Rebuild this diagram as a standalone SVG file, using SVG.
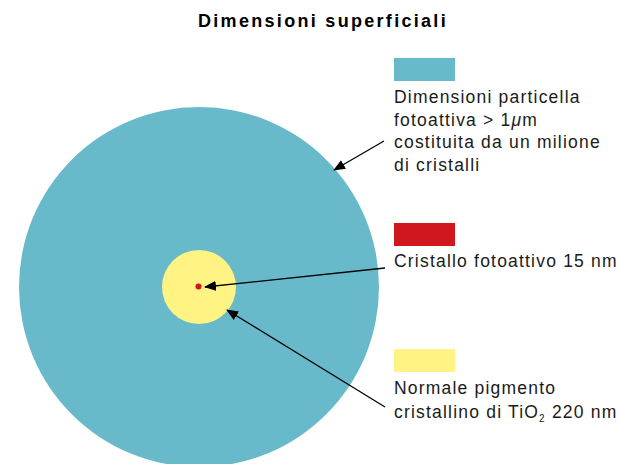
<svg xmlns="http://www.w3.org/2000/svg" width="620" height="464" viewBox="0 0 620 464">
<style>
text{font-family:"Liberation Sans",Arial,sans-serif;font-size:17.5px;letter-spacing:1.2px;fill:#1a1a1a}
.title{font-weight:bold;font-size:18px;letter-spacing:2.3px;fill:#000}
.conn{stroke:#000;stroke-width:1.3;fill:none}
</style>
<defs>
<marker id="ah" viewBox="0 0 12 10" refX="11" refY="5" markerWidth="12" markerHeight="10" markerUnits="userSpaceOnUse" orient="auto">
<path d="M0,0 L12,5 L0,10 Z" fill="#000"/>
</marker>
</defs>
<rect width="620" height="464" fill="#fff"/>
<text class="title" x="323" y="27" text-anchor="middle">Dimensioni superficiali</text>
<g id="particle"><circle cx="199" cy="287" r="180" fill="#68BACB"/></g>
<g id="pigment"><circle cx="199" cy="287" r="37" fill="#FFF383"/></g>
<g id="crystal"><circle cx="198.5" cy="286.5" r="3" fill="#D0171D"/></g>
<g id="legend-particle">
<rect x="394" y="58" width="61" height="23" fill="#68BACB"/>
<text x="394" y="103">Dimensioni particella</text>
<text x="394" y="126">fotoattiva &gt; 1<tspan font-style="italic">μ</tspan>m</text>
<text x="394" y="148">costituita da un milione</text>
<text x="394" y="171">di cristalli</text>
</g>
<g id="legend-crystal">
<rect x="394" y="223" width="61" height="23" fill="#D0171D"/>
<text x="394" y="267">Cristallo fotoattivo 15 nm</text>
</g>
<g id="legend-pigment">
<rect x="394" y="349" width="61" height="23" fill="#FFF383"/>
<text x="394" y="394">Normale pigmento</text>
<text x="394" y="418">cristallino di TiO<tspan font-size="10" dy="4">2</tspan><tspan dy="-4"> 220 nm</tspan></text>
</g>
<g id="connectors">
<line class="conn" x1="384" y1="141" x2="334" y2="170" marker-end="url(#ah)"/>
<line class="conn" x1="385" y1="268" x2="205" y2="287" marker-end="url(#ah)"/>
<line class="conn" x1="385" y1="407" x2="227" y2="310" marker-end="url(#ah)"/>
</g>
</svg>
